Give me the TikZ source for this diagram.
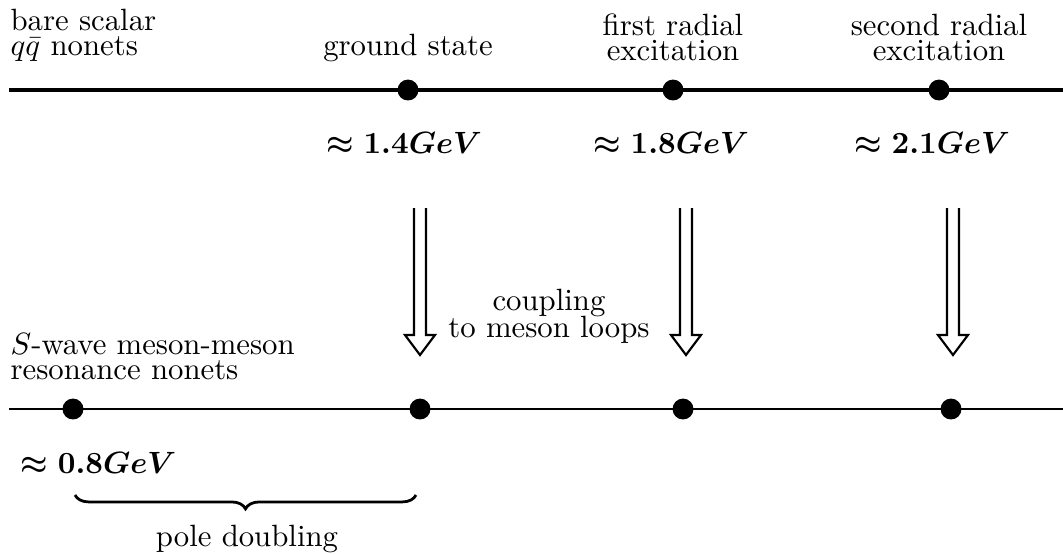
\documentclass[tikz,border=0pt]{standalone}
\usepackage{amsmath,amssymb}
\usetikzlibrary{calc, decorations.pathreplacing}

% open double-shafted arrow, from #1 (top) down to #2 (tip)
\newcommand{\couplingarrow}[2]{%
    \draw[hollow] ($(#1)+(-6,0)$) -- ($(#2)+(-6,-20)$) -- ($(#2)+(-15,-20)$)
        -- (#2) -- ($(#2)+(15,-20)$) -- ($(#2)+(6,-20)$) -- ($(#1)+(6,0)$);%
}

\begin{document}
\begin{tikzpicture}[
    x=0.325pt, y=-0.325pt,
    barelevel/.style={line width=1.1pt},
    reslevel/.style={line width=0.7pt},
    state/.style={circle, fill=black, inner sep=0pt, minimum size=6.8pt},
    textlabel/.style={align=center, anchor=base},
    sidelabel/.style={align=left, anchor=base west, inner sep=0pt},
    mass/.style={anchor=base, font=\boldmath},
    hollow/.style={line width=0.7pt, miter limit=10},
    pole/.style={decorate, decoration={brace, mirror, amplitude=4.5pt}, line width=0.9pt}
]
    \useasboundingbox (0,0) rectangle (1063,554);

    % --- Bare q-qbar nonets ---
    \coordinate (topL) at (9,90);
    \coordinate (topR) at (1063,90);
    \draw[barelevel] (topL) -- (topR);

    \node[sidelabel] (bare) at (10,55) {bare scalar\\[-4pt]$q\bar{q}$ nonets};
    \node[textlabel] (ground) at (408,55) {ground state};
    \node[textlabel] (first) at (673,60) {first radial\\[-4pt]excitation};
    \node[textlabel] (second) at (939,60) {second radial\\[-4pt]excitation};

    \node[state] (g1) at (408,90) {};
    \node[state] (r1) at (673,90) {};
    \node[state] (r2) at (939,90) {};

    \node[mass] (m14) at (404,153) {$\approx 1.4GeV$};
    \node[mass] (m18) at (671,153) {$\approx 1.8GeV$};
    \node[mass] (m21) at (932,153) {$\approx 2.1GeV$};

    % --- Coupling ---
    \coordinate (a1) at (420,208);  \coordinate (t1) at (420,355);
    \coordinate (a2) at (686,208);  \coordinate (t2) at (686,355);
    \coordinate (a3) at (953,208);  \coordinate (t3) at (953,355);
    \couplingarrow{a1}{t1}
    \couplingarrow{a2}{t2}
    \couplingarrow{a3}{t3}

    \node[textlabel] (coupling) at (549,337) {coupling\\[-3.3pt]to meson loops};

    % --- Meson-meson resonances ---
    \coordinate (botL) at (9,409);
    \coordinate (botR) at (1063,409);
    \draw[reslevel] (botL) -- (botR);

    \node[sidelabel] (swave) at (10,379) {$S$-wave meson-meson\\[-4pt]resonance nonets};

    \node[state] (s0) at (73,409) {};
    \node[state] (s1) at (420,409) {};
    \node[state] (s2) at (683,409) {};
    \node[state] (s3) at (951,409) {};

    \node[mass, anchor=base west, inner sep=0pt] (m08) at (20,473) {$\approx 0.8GeV$};

    % pole doubling
    \coordinate (b0) at (75,495);
    \coordinate (b1) at (416,495);
    \draw[pole] (b0) -- (b1);
    \node[textlabel] (doubling) at (247,546) {pole doubling};
\end{tikzpicture}
\end{document}
